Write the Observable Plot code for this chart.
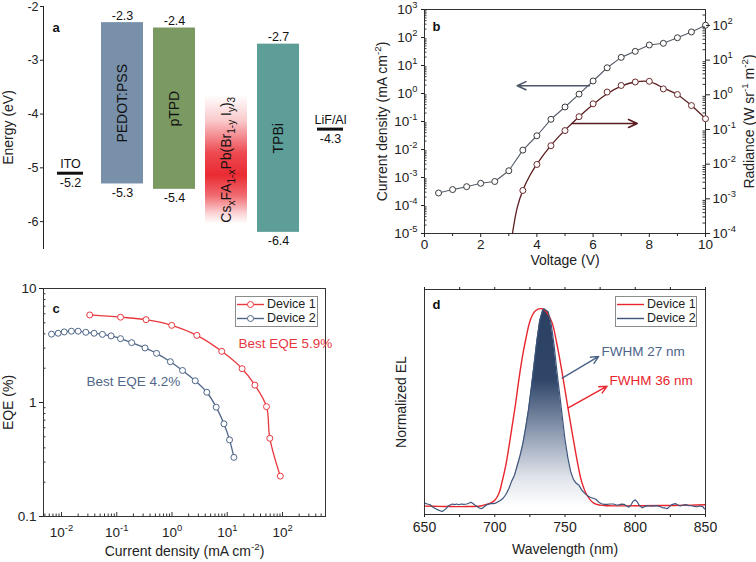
<!DOCTYPE html>
<html><head><meta charset="utf-8">
<script src="https://cdn.jsdelivr.net/npm/d3@7"></script>
<script src="https://cdn.jsdelivr.net/npm/@observablehq/plot@0.6"></script>
<style>
body{margin:0;background:#fff}
#fig{position:relative;width:756px;height:562px;background:#fff;font-family:'Liberation Sans',Arial,sans-serif;overflow:hidden}
#fig svg.plotpanel{position:absolute;overflow:visible}
.legend{position:absolute;border:1px solid #8c8c8c;background:#fff;font-size:12.5px;color:#222;box-sizing:border-box}
.legend .row{position:absolute;left:0;height:15px;line-height:15px;white-space:nowrap}
.legend svg{position:absolute;left:0;top:0}
.legend span{position:absolute;top:0}
</style></head><body><div id="fig"></div>
<script>
// ---------------- Panel a: energy levels ----------------
const layers = ["ITO","PEDOT:PSS","pTPD","perovskite","TPBi","LiF/Al"];
const bandNames = ["PEDOT:PSS","pTPD","TPBi"];
const bandTop = [-2.3,-2.4,-2.7];
const bandBottom = [-5.3,-5.4,-6.2];
const bandTopLabel = ["-2.3","-2.4","-2.7"];
const bandBottomLabel = ["-5.3","-5.4","-6.4"];
const bandColors = ["#7890a9","#7a9a62","#5d9e99"];
const electrodeNames = ["ITO","LiF/Al"];
const electrodeLevel = [-5.1,-4.28];
const electrodeLabel = ["-5.2","-4.3"];
const perovName = "perovskite";
const perovTop = -3.65, perovBottom = -6.05;
const perovFormula = "CsxFA1-xPb(Br1-yIy)3";
const energyTicks = [-6,-5,-4,-3,-2];

// ---------------- Panel b: J-V-R ----------------
const voltage = [0.5,1,1.5,2,2.5,3,3.5,4,4.5,5,5.5,6,6.5,7,7.5,8,8.5,9,9.5,10];
const currentDensity = [2.8e-4,3.7e-4,4.7e-4,6.2e-4,7.2e-4,1.74e-3,9.5e-3,0.031,0.12,0.33,0.95,2.8,8.3,19.5,32,54,62,98,158,275];
const radVoltage = [3.5,4,4.5,5,5.5,6,6.5,7,7.5,8,8.5,9,9.5,10];
const radiance = [1.74e-3,9.8e-3,0.034,0.093,0.234,0.55,1.2,1.86,2.34,2.45,1.48,1.02,0.49,0.204];
const radFitVoltage = [3.13,3.3,3.5,3.75,4,4.5,5,5.5,6,6.5,7,7.5,8,8.5,9,9.5,10];
const radFit = [1e-4,5.6e-4,1.78e-3,4.7e-3,0.01,0.0347,0.0955,0.234,0.525,1.07,1.78,2.34,2.4,1.58,1.0,0.49,0.204];
const jTickExp = [-5,-4,-3,-2,-1,0,1,2,3];
const rTickExp = [-4,-3,-2,-1,0,1,2];
const vTicks = [0,2,4,6,8,10];

// ---------------- Panel c: EQE ----------------
const dev1J = [0.0324,0.117,0.339,0.986,2.82,7.94,18.6,31.6,51.3,58.9,91.2];
const dev1EQE = [5.86,5.6,5.33,4.75,3.88,2.81,1.98,1.42,0.92,0.485,0.226];
const dev2J = [0.0066,0.0087,0.0112,0.0151,0.020,0.0275,0.0389,0.055,0.079,0.117,0.186,0.324,0.525,0.933,1.55,2.63,4.27,6.31,8.71,11.0,13.2];
const dev2EQE = [3.98,4.05,4.16,4.22,4.22,4.13,4.05,3.96,3.84,3.63,3.35,3.01,2.70,2.28,1.91,1.55,1.23,0.91,0.65,0.47,0.33];
const cxTickExp = [-2,-1,0,1,2];
const eqeTicks = [0.1,1,10];

// ---------------- Panel d: EL spectra ----------------
const redW = [650,660,670,680,690,694.6,697,700,702,703.5,705.3,707.7,710,712.4,714.8,717.1,719.5,721.9,725.4,729,733.6,737.2,740.8,744.3,747.9,751.4,755,758.5,762,765.7,770.4,775,780,800,820,840,850];
const redV = [0.005,0.004,0.003,0.003,0.006,0.015,0.02,0.035,0.055,0.08,0.13,0.205,0.30,0.41,0.52,0.64,0.75,0.84,0.945,0.99,1.0,0.98,0.93,0.82,0.68,0.53,0.38,0.24,0.125,0.06,0.02,0.01,0.007,0.007,0.008,0.010,0.012];
const blueW = [650,652,654,656,658,660,662.5,664,665.5,667,668.5,670,671.5,673,674.5,676,678,680,681.5,683,684.5,686,687.5,689,690.5,692,693.5,695,697,699,700.5,702,704,706,708,710,712,714,716,718,720,722,724,726,728,730,732,734,735,736,737,738,740,742,744,746,748,750,752,754,756,758,760,762,764.5,766,768,770,772,774,776,778,780,782,784.5,786,788,790,792,794,795.5,797,798.5,800,801.5,803,805,807,808.5,810,812,814,816,818,819,821,822.7,824,826,828.6,830,832,834,836,838,840,842,844,846,848,849.3,850];
const blueV = [0.020,0.016,0.012,0.000,-0.008,-0.015,-0.022,-0.015,-0.006,0.006,0.012,0.016,0.013,0.016,0.012,0.016,0.014,0.016,0.020,0.025,0.018,0.010,0.003,-0.004,-0.008,0.000,0.008,0.014,0.018,0.018,0.020,0.026,0.034,0.045,0.065,0.093,0.13,0.16,0.21,0.26,0.32,0.40,0.49,0.60,0.72,0.84,0.94,0.99,1.0,0.995,0.99,0.985,0.93,0.83,0.70,0.58,0.46,0.34,0.25,0.18,0.14,0.12,0.11,0.085,0.067,0.058,0.05,0.045,0.04,0.025,0.017,0.014,0.014,0.016,0.016,0.012,0.010,0.015,0.014,0.006,0.000,0.012,0.030,0.037,0.025,0.008,-0.003,0.004,0.008,0.006,0.005,0.008,0.006,0.002,-0.002,-0.004,-0.008,0.000,0.013,0.018,0.012,0.006,0.010,0.013,0.008,0.007,0.004,0.002,0.006,0.003,-0.008,-0.011];
const wTicks = [650,700,750,800,850];
const wMinor = [675,725,775,825];

// ---------------- helpers ----------------
const F = "'Liberation Sans', Arial, sans-serif";
const INK = "#222";
const SUP = {"-":"\u207B","0":"\u2070","1":"\u00B9","2":"\u00B2","3":"\u00B3","4":"\u2074","5":"\u2075","6":"\u2076","7":"\u2077","8":"\u2078","9":"\u2079"};
const INV = Object.fromEntries(Object.entries(SUP).map(([k,v]) => [v,k]));
const pow10Label = e => "10" + String(e).split("").map(c => SUP[c]).join("");
const pow10Fmt = d => pow10Label(Math.round(Math.log10(d)));
function logMinors(k0, k1, lo, hi){ const out=[]; for(let k=k0;k<=k1;k++) for(let m=2;m<=9;m++){ const v=m*Math.pow(10,k); if(v>lo && v<hi) out.push(v);} return out; }
function defsMark(build){ return () => { const d = d3.create("svg:defs"); build(d); return d.node(); }; }
const fig = document.getElementById("fig");
// render unicode superscripts as real raised tspans
function raiseSuperscripts(svg){
  d3.select(svg).selectAll("text").each(function(){
    const s = this.textContent;
    if (![...s].some(c => INV[c])) return;
    const fs = parseFloat(getComputedStyle(this).fontSize) || 13;
    const runs = [];
    for (const c of s) {
      const sup = !!INV[c];
      const ch = sup ? INV[c] : c;
      if (runs.length && runs[runs.length-1].sup === sup) runs[runs.length-1].t += ch;
      else runs.push({sup, t:ch});
    }
    const t = d3.select(this); t.text("");
    const rise = Math.round(fs*0.42);
    let up = false;
    for (const r of runs) {
      const ts = t.append("tspan").text(r.t);
      if (r.sup) { ts.attr("font-size", (fs*0.7).toFixed(1)).attr("dy", up ? 0 : -rise); up = true; }
      else { ts.attr("dy", up ? rise : 0); up = false; }
    }
  });
}
function place(svg, left, top){ svg.classList.add("plotpanel"); svg.style.left = left+"px"; svg.style.top = top+"px"; fig.appendChild(svg); raiseSuperscripts(svg); return svg; }
const baseStyle = {fontFamily:F, fontSize:"13px", color:INK, background:"transparent", overflow:"visible"};

// ---------------- Panel a ----------------
const bands = bandNames.map((n,i)=>({name:n, top:bandTop[i], bottom:bandBottom[i], tl:bandTopLabel[i], bl:bandBottomLabel[i], color:bandColors[i]}));
const electrodes = electrodeNames.map((n,i)=>({name:n, level:electrodeLevel[i], label:electrodeLabel[i]}));
const perov = [{name:perovName, top:perovTop, bottom:perovBottom, formula:perovFormula}];

const pa = Plot.plot({
  width:378, height:281, marginLeft:43, marginTop:6, marginBottom:33, marginRight:22,
  style:{...baseStyle, fontSize:"12.5px"},
  x:{type:"band", domain:layers, range:[44,356], paddingInner:0.2, paddingOuter:0.1, axis:null},
  y:{domain:[-6.5,-2], ticks:energyTicks, tickFormat:d=>String(d), tickSize:3, tickPadding:2, line:true, label:null},
  marks:[
    defsMark(d => {
      const g = d.append("linearGradient").attr("id","perovGrad").attr("x1",0).attr("y1",0).attr("x2",0).attr("y2",1);
      [[0,0],[0.2,0.25],[0.45,0.85],[0.62,1],[0.78,0.7],[0.92,0.2],[1,0]].forEach(([o,a]) => g.append("stop").attr("offset",o).attr("stop-color","#ea2a32").attr("stop-opacity",a));
    }),
    Plot.barY(bands, {x:"name", y1:"bottom", y2:"top", fill:"color"}),
    Plot.barY(perov, {x:"name", y1:d=>d.bottom, y2:d=>d.top, fill:"url(#perovGrad)"}),
    Plot.text(bands, {x:"name", y:d=>(d.top+d.bottom)/2, text:"name", rotate:-90, fontSize:14, fill:"#111"}),
    Plot.text(perov, {x:"name", y:d=>(d.top+d.bottom)/2, text:"formula", rotate:-90, fontSize:14, fill:"#111"}),
    Plot.text(bands, {x:"name", y:"top", text:"tl", lineAnchor:"bottom", dy:-3, fontSize:12.5, fill:"#111"}),
    Plot.text(bands, {x:"name", y:"bottom", text:"bl", lineAnchor:"top", dy:4, fontSize:12.5, fill:"#111"}),
    Plot.tickY(electrodes, {x:"name", y:"level", stroke:"#111", strokeWidth:3, insetLeft:8, insetRight:8}),
    Plot.text(electrodes, {x:"name", y:"level", text:"name", lineAnchor:"bottom", dy:-5, fontSize:12.5, fill:"#111"}),
    Plot.text(electrodes, {x:"name", y:"level", text:"label", lineAnchor:"top", dy:5, fontSize:12.5, fill:"#111"}),
    Plot.text(["Energy (eV)"], {frameAnchor:"left", textAnchor:"middle", rotate:-90, dx:-35, fontSize:14, fill:INK}),
    Plot.text(["a"], {frameAnchor:"top-left", textAnchor:"start", dx:9, dy:16, fontSize:13, fontWeight:"bold", fill:"#111"})
  ]
});
place(pa, 0, 0);
// subscripts in the perovskite formula
d3.select(pa).selectAll("text").filter(function(){ return this.textContent === perovFormula; }).each(function(){
  const t = d3.select(this); t.text("");
  const parts = [["Cs",0],["x",1],["FA",0],["1-x",1],["Pb(Br",0],["1-y",1],[" I",0],["y",1],[")",0],["3",1]];
  let shifted = false;
  for (const [s, sub] of parts) {
    const ts = t.append("tspan").text(s);
    if (sub) { ts.attr("font-size", 10).attr("dy", shifted ? 0 : 4); shifted = true; }
    else { ts.attr("dy", shifted ? -4 : 0); shifted = false; }
  }
});

// ---------------- Panel b ----------------
const jData = voltage.map((v,i)=>({v, j:currentDensity[i]}));
const rData = radVoltage.map((v,i)=>({v, r:radiance[i]}));
const rFit = radFitVoltage.map((v,i)=>({v, r:radFit[i]}));
const bFW = 378-46-51;
const jArrows = [{x1:5.87, y1:1.9, x2:3.3, y2:1.9}];
const rArrows = [{x1:5.25, y1:0.085, x2:7.57, y2:0.085}];
const pb = Plot.plot({
  width:378, height:281, marginLeft:46, marginRight:51, marginTop:9, marginBottom:48,
  style:baseStyle,
  x:{domain:[0,10]},
  y:{type:"log", domain:[1e-5,1e3]},
  marks:[
    Plot.frame({stroke:"#333"}),
    Plot.axisX(vTicks, {tickSize:4, tickPadding:2, tickFormat:d=>String(d), label:null, fontSize:13.5}),
    Plot.axisX([1,3,5,7,9], {tickSize:3, tickFormat:()=>"", label:null}),
    Plot.axisY(jTickExp.map(e=>Math.pow(10,e)), {tickSize:3, tickPadding:4, tickFormat:pow10Fmt, label:null, fontSize:13.5}),
    Plot.tickY(logMinors(-5,2,1e-5,1e3), {y:d=>d, insetRight:bFW-2.5, stroke:"#333"}),
    Plot.line(jData, {x:"v", y:"j", stroke:"#555d6b", strokeWidth:1.1}),
    Plot.dot(jData, {x:"v", y:"j", r:3, stroke:"#3a3a3a", fill:"white", strokeWidth:1}),
    Plot.arrow(jArrows, {x1:"x1", y1:"y1", x2:"x2", y2:"y2", stroke:"#4e5667", strokeWidth:1.6, headLength:9, headAngle:50}),
    Plot.text(["Current density (mA cm\u207B\u00B2)"], {frameAnchor:"left", textAnchor:"middle", rotate:-90, dx:-42, fontSize:14, fill:INK}),
    Plot.text(["Voltage (V)"], {frameAnchor:"bottom", dy:31, fontSize:14, fill:INK}),
    Plot.text(["b"], {frameAnchor:"top-left", textAnchor:"start", dx:8, dy:12, fontSize:13, fontWeight:"bold", fill:"#111"})
  ]
});
place(pb, 378, 0);
const pb2 = Plot.plot({
  width:378, height:281, marginLeft:46, marginRight:51, marginTop:9, marginBottom:48,
  style:baseStyle,
  x:{domain:[0,10], axis:null},
  y:{type:"log", domain:[1e-4, Math.pow(10,2.46)]},
  marks:[
    Plot.axisY(rTickExp.map(e=>Math.pow(10,e)), {anchor:"right", tickSize:4, tickPadding:3, tickFormat:pow10Fmt, label:null, fontSize:13.5}),
    Plot.tickY(logMinors(-4,2,1e-4,Math.pow(10,2.46)), {y:d=>d, insetLeft:bFW-2.5, stroke:"#333"}),
    Plot.line(rFit, {x:"v", y:"r", stroke:"#5a1c1e", strokeWidth:1.3, curve:"catmull-rom"}),
    Plot.dot(rData, {x:"v", y:"r", r:3, stroke:"#6a2a2c", fill:"white", strokeWidth:1}),
    Plot.text(["Radiance (W sr\u207B\u00B9 m\u207B\u00B2)"], {frameAnchor:"right", textAnchor:"middle", rotate:-90, dx:44, fontSize:14, fill:INK})
  ]
});
place(pb2, 378, 0);
// right arrow drawn in the J coordinate system
const pb3 = Plot.plot({
  width:378, height:281, marginLeft:46, marginRight:51, marginTop:9, marginBottom:48,
  style:baseStyle,
  x:{domain:[0,10], axis:null},
  y:{type:"log", domain:[1e-5,1e3], axis:null},
  marks:[
    Plot.arrow(rArrows, {x1:"x1", y1:"y1", x2:"x2", y2:"y2", stroke:"#5a1c1e", strokeWidth:1.6, headLength:9, headAngle:50})
  ]
});
place(pb3, 378, 0);

// ---------------- Panel c ----------------
const c1 = dev1J.map((j,i)=>({j, e:dev1EQE[i]}));
const c2 = dev2J.map((j,i)=>({j, e:dev2EQE[i]}));
const cFW = 378-43-53, cFH = 281-7-46;
const cRed = "#e8383f", cBlue = "#4f6688";
const cNotes = [{j:16, e:3.3, t:"Best EQE 5.9%", c:cRed},{j:0.0283, e:1.53, t:"Best EQE 4.2%", c:cBlue}];
const pc = Plot.plot({
  width:378, height:281, marginLeft:43, marginRight:53, marginTop:7, marginBottom:46,
  style:baseStyle,
  x:{type:"log", domain:[0.00472, 600]},
  y:{type:"log", domain:[0.1, 10]},
  marks:[
    Plot.frame({stroke:"#333"}),
    Plot.axisX(cxTickExp.map(e=>Math.pow(10,e)), {tickSize:0, tickPadding:11, tickFormat:pow10Fmt, label:null, fontSize:13.5}),
    Plot.tickX(cxTickExp.map(e=>Math.pow(10,e)), {x:d=>d, insetTop:cFH-4, stroke:"#333"}),
    Plot.tickX(logMinors(-3,2,0.00472,600), {x:d=>d, insetTop:cFH-2.5, stroke:"#333"}),
    Plot.axisY(eqeTicks, {tickSize:4, tickPadding:3, tickFormat:d=>String(d), label:null, fontSize:13.5}),
    Plot.tickY(logMinors(-1,0,0.1,10), {y:d=>d, insetRight:cFW-2.5, stroke:"#333"}),
    Plot.line(c1, {x:"j", y:"e", stroke:cRed, strokeWidth:1.3, curve:"catmull-rom"}),
    Plot.dot(c1, {x:"j", y:"e", r:3, stroke:cRed, fill:"white", strokeWidth:1}),
    Plot.line(c2, {x:"j", y:"e", stroke:cBlue, strokeWidth:1.3, curve:"catmull-rom"}),
    Plot.dot(c2, {x:"j", y:"e", r:3, stroke:cBlue, fill:"white", strokeWidth:1}),
    Plot.text(cNotes, {x:"j", y:"e", text:"t", fill:"c", textAnchor:"start", fontSize:13.5}),
    Plot.text(["EQE (%)"], {frameAnchor:"left", textAnchor:"middle", rotate:-90, dx:-35, fontSize:14, fill:INK}),
    Plot.text(["Current density (mA cm\u207B\u00B2)"], {frameAnchor:"bottom", dy:39, fontSize:14, fill:INK}),
    Plot.text(["c"], {frameAnchor:"top-left", textAnchor:"start", dx:9, dy:15, fontSize:13, fontWeight:"bold", fill:"#111"})
  ]
});
place(pc, 0, 281);

// ---------------- Panel d ----------------
const red = redW.map((w,i)=>({w, v:redV[i]}));
const blue = blueW.map((w,i)=>({w, v:blueV[i]}));
const blueFill = blue.filter(d => d.w >= 697 && d.w <= 778);
const dRed = "#e8252d", dBlue = "#3e557b";
const dArrows = [{x1:748, y1:0.65, x2:774, y2:0.76, c:"#4a6287"},{x1:752.3, y1:0.50, x2:780, y2:0.61, c:"#e8252d"}];
const dNotes = [{w:776, v:0.785, t:"FWHM 27 nm", c:"#4d6489"},{w:781.7, v:0.64, t:"FWHM 36 nm", c:"#e8252d"}];
const pd = Plot.plot({
  width:378, height:281, marginLeft:46, marginRight:51, marginTop:8, marginBottom:48,
  style:baseStyle,
  x:{domain:[650,850]},
  y:{domain:[-0.037,1.097], axis:null},
  marks:[
    defsMark(d => {
      const g = d.append("linearGradient").attr("id","elGrad").attr("x1",0).attr("y1",0).attr("x2",0).attr("y2",1);
      [[0,"#2b4163"],[0.36,"#2f4669"],[0.6,"#8593ab"],[0.85,"#dfe3ea"],[1,"#ffffff"]].forEach(([o,c]) => g.append("stop").attr("offset",o).attr("stop-color",c));
    }),
    Plot.areaY(blueFill, {x:"w", y1:()=>0, y2:"v", fill:"url(#elGrad)"}),
    Plot.line(red, {x:"w", y:"v", stroke:dRed, strokeWidth:1.4, curve:"catmull-rom"}),
    Plot.line(blue, {x:"w", y:"v", stroke:dBlue, strokeWidth:1.2}),
    Plot.frame({stroke:"#333"}),
    Plot.axisX(wTicks, {tickSize:3, tickPadding:5, tickFormat:d=>String(d), label:null, fontSize:14}),
    Plot.axisX(wMinor, {tickSize:3, tickFormat:()=>"", label:null}),
    Plot.axisX([...wTicks, ...wMinor], {anchor:"top", tickSize:3, tickFormat:()=>"", label:null}),
    Plot.arrow(dArrows, {x1:"x1", y1:"y1", x2:"x2", y2:"y2", stroke:"c", strokeWidth:1.4, headLength:9, headAngle:50}),
    Plot.text(dNotes, {x:"w", y:"v", text:"t", fill:"c", textAnchor:"start", fontSize:13.5}),
    Plot.text(["Normalized EL"], {frameAnchor:"left", textAnchor:"middle", rotate:-90, dx:-23, fontSize:14, fill:INK}),
    Plot.text(["Wavelength (nm)"], {frameAnchor:"bottom", dy:39, fontSize:14, fill:INK}),
    Plot.text(["d"], {frameAnchor:"top-left", textAnchor:"start", dx:8, dy:10, fontSize:13, fontWeight:"bold", fill:"#111"})
  ]
});
place(pd, 378, 281);

// ---------------- Legends (HTML) ----------------
function legend(left, top, w, h, items, marker){
  const box = document.createElement("div");
  box.className = "legend";
  Object.assign(box.style, {left:left+"px", top:top+"px", width:w+"px", height:h+"px"});
  items.forEach((it) => {
    const row = document.createElement("div");
    row.className = "row";
    row.style.top = (it.dy)+"px";
    row.style.width = (w-2)+"px";
    const s = d3.create("svg").attr("width",30).attr("height",15);
    s.append("line").attr("x1",1).attr("x2",28).attr("y1",7.5).attr("y2",7.5).attr("stroke",it.color).attr("stroke-width",1.4);
    if (marker) s.append("circle").attr("cx",14.5).attr("cy",7.5).attr("r",3).attr("fill","#fff").attr("stroke",it.color).attr("stroke-width",1);
    row.appendChild(s.node());
    const sp = document.createElement("span");
    sp.textContent = it.label;
    sp.style.left = "31px";
    row.appendChild(sp);
    box.appendChild(row);
  });
  fig.appendChild(box);
}
const legendLabels = ["Device 1","Device 2"];
legend(235, 296, 83, 31, [{label:legendLabels[0], color:cRed, dy:0},{label:legendLabels[1], color:cBlue, dy:14}], true);
legend(615, 296, 82, 31, [{label:legendLabels[0], color:dRed, dy:0},{label:legendLabels[1], color:dBlue, dy:14}], false);
</script></body></html>
